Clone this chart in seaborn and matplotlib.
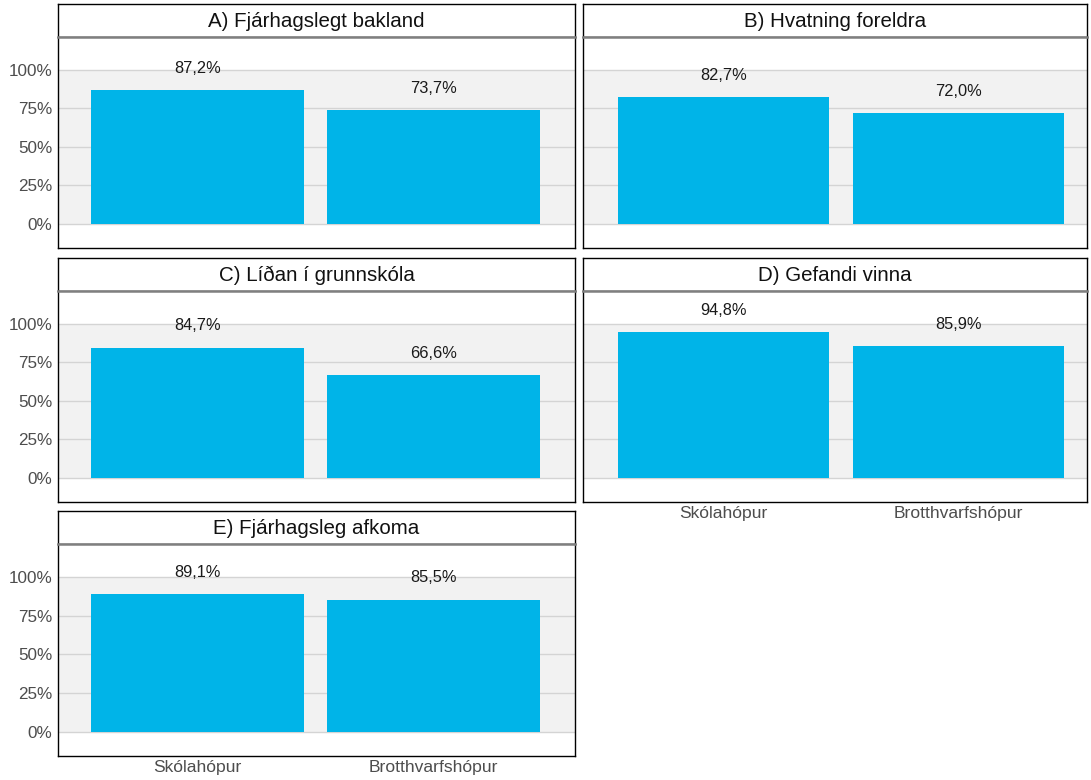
import pandas as pd
import numpy as np
import seaborn as sns
import matplotlib.pyplot as plt
from matplotlib.ticker import FuncFormatter

titlar = ["A) Fjárhagslegt bakland", "B) Hvatning foreldra", "C) Líðan í grunnskóla",
          "D) Gefandi vinna", "E) Fjárhagsleg afkoma"]
hopar = ["Skólahópur", "Brotthvarfshópur"]
skolahopur = [87.2, 82.7, 84.7, 94.8, 89.1]
brotthvarf = [73.7, 72.0, 66.6, 85.9, 85.5]

rows = []
for t, s, b in zip(titlar, skolahopur, brotthvarf):
    rows.append({"flokkur": t, "hopur": hopar[0], "hlutfall": s / 100})
    rows.append({"flokkur": t, "hopur": hopar[1], "hlutfall": b / 100})
df = pd.DataFrame(rows)

sns.set_theme(style="white")
plt.rcParams['font.family'] = ['Liberation Sans', 'DejaVu Sans']

W, H = 1091, 780
fig = plt.figure(figsize=(W / 100, H / 100), dpi=100)

# pixel boxes (left, right) and (strip top, panel top, panel bottom)
cols = [(58, 575), (583, 1087)]
rws = [(4, 37, 248), (258, 291, 502), (511, 544, 756)]
xlims = [(-0.59, 1.6), (-0.6, 1.549)]

def fbox(l, r, top, bot):
    return [l / W, 1 - bot / H, (r - l) / W, (bot - top) / H]

pct = FuncFormatter(lambda v, p: f"{v * 100:.0f}%")

for i, t in enumerate(titlar):
    r, c = divmod(i, 2)
    l, rr = cols[c]
    st, pt, pb = rws[r]

    sax = fig.add_axes(fbox(l, rr, st, pt))
    sax.set_xticks([]); sax.set_yticks([])
    for sp in sax.spines.values():
        sp.set_color("black"); sp.set_linewidth(1.0)
    sax.text(0.5, 0.47, t, ha="center", va="center", fontsize=14.8, color="#111111",
             transform=sax.transAxes)

    ax = fig.add_axes(fbox(l, rr, pt, pb))
    sub = df[df["flokkur"] == t]
    ax.axhspan(0, 1, color="#f2f2f2", zorder=0, lw=0)
    sns.barplot(data=sub, x="hopur", y="hlutfall", order=hopar, ax=ax,
                color="#00b4e8", saturation=1, width=0.9, errorbar=None,
                linewidth=0, zorder=2)
    for k, v in enumerate(sub["hlutfall"]):
        ax.text(k, v + 0.14, f"{v * 100:.1f}%".replace(".", ","), ha="center", va="center",
                fontsize=11.8, color="#1a1a1a", zorder=3)
    ax.set_ylim(-0.156, 1.214)
    ax.set_xlim(*xlims[c])
    ax.set_yticks([0, 0.25, 0.5, 0.75, 1.0])
    ax.yaxis.set_major_formatter(pct)
    ax.yaxis.grid(True, color="#d4d4d4", lw=1.0)
    ax.set_axisbelow(True)
    ax.set_xlabel(""); ax.set_ylabel("")
    ax.tick_params(length=0, labelsize=12.3, colors="#4d4d4d", pad=4)
    ax.tick_params(axis="x", labelsize=12.6, pad=3)
    if c == 1:
        ax.set_yticklabels([])
    if i not in (3, 4):
        ax.set_xticklabels([])
    for sp in ax.spines.values():
        sp.set_color("black"); sp.set_linewidth(1.0)
    ax.spines["top"].set_color("#7f7f7f")
    ax.spines["top"].set_linewidth(1.8)

fig.savefig("out.png", dpi=100)
